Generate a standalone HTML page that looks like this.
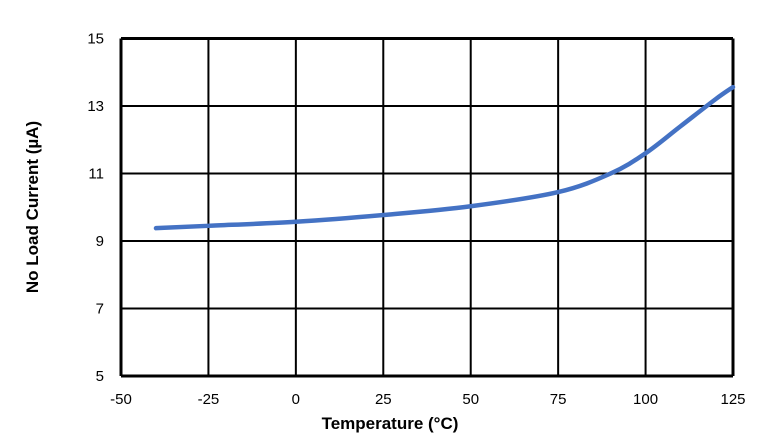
<!DOCTYPE html>
<html><head><meta charset="utf-8"><style>
body{margin:0;background:#fff;}
svg{display:block;font-family:"Liberation Sans",Arial,sans-serif;}
</style></head><body>
<svg id="chart" width="776" height="448" viewBox="0 0 776 448">
<g id="grid"></g>
<g id="ticks"></g>
<path id="line" fill="none" stroke="#4472C4" stroke-width="4.5" stroke-linecap="round"></path>
<text x="390" y="429" text-anchor="middle" font-size="17" font-weight="bold">Temperature (°C)</text>
<text transform="translate(38,207) rotate(-90)" text-anchor="middle" font-size="17" font-weight="bold">No Load Current (µA)</text>
</svg>
<script>
const xTicks=[-50,-25,0,25,50,75,100,125];
const yTicks=[5,7,9,11,13,15];
const temps=[-40,-25,0,25,50,75,90,100,110,120,125];
const current=[9.38,9.45,9.57,9.77,10.03,10.45,11.0,11.6,12.4,13.2,13.56];
const L=121,R=733,T=38.5,B=376;
const xs=v=>L+(v+50)/175*(R-L);
const ys=v=>B-(v-5)/10*(B-T);
const NS="http://www.w3.org/2000/svg";
const grid=document.getElementById('grid'),ticks=document.getElementById('ticks');
xTicks.forEach(t=>{
 const l=document.createElementNS(NS,'line');
 
 
 l.setAttribute('x1',xs(t));l.setAttribute('x2',xs(t));l.setAttribute('y1',T);l.setAttribute('y2',B);
 l.setAttribute('stroke','#000');l.setAttribute('stroke-width',(t===-50||t===125)?3:2);
 grid.appendChild(l);
 const tx=document.createElementNS(NS,'text');
 
 
 tx.setAttribute('x',xs(t));tx.setAttribute('y',404);tx.setAttribute('text-anchor','middle');tx.setAttribute('font-size','15');
 tx.textContent=t;ticks.appendChild(tx);
});
yTicks.forEach(t=>{
 const l=document.createElementNS(NS,'line');
 
 
 l.setAttribute('x1',L);l.setAttribute('x2',R);l.setAttribute('y1',ys(t));l.setAttribute('y2',ys(t));
 l.setAttribute('stroke','#000');l.setAttribute('stroke-width',(t===5||t===15)?3:2);
 grid.appendChild(l);
 const tx=document.createElementNS(NS,'text');
 
 
 tx.setAttribute('x',104);tx.setAttribute('y',ys(t)+5);tx.setAttribute('text-anchor','end');tx.setAttribute('font-size','15');
 tx.textContent=t;ticks.appendChild(tx);
});
const pts=temps.map((t,i)=>[xs(t),ys(current[i])]);
let d='M'+pts[0][0]+','+pts[0][1];
for(let i=0;i<pts.length-1;i++){
 const p0=pts[Math.max(0,i-1)],p1=pts[i],p2=pts[i+1],p3=pts[Math.min(pts.length-1,i+2)];
 const c1=[p1[0]+(p2[0]-p0[0])/6,p1[1]+(p2[1]-p0[1])/6];
 const c2=[p2[0]-(p3[0]-p1[0])/6,p2[1]-(p3[1]-p1[1])/6];
 d+=' C'+c1+' '+c2+' '+p2;
}
document.getElementById('line').setAttribute('d',d);
</script>
</body></html>
